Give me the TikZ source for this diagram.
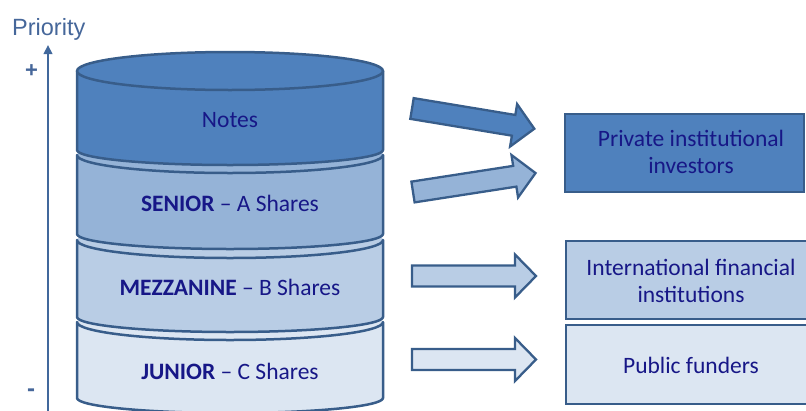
\documentclass[tikz,border=0pt]{standalone}
\usepackage{fontspec}
\setmainfont{Carlito}
\newfontfamily\arialf{Liberation Sans}
\usetikzlibrary{arrows.meta}
\definecolor{bord}{HTML}{385D8A}
\definecolor{cA}{HTML}{4F81BD}
\definecolor{cB}{HTML}{95B3D7}
\definecolor{cC}{HTML}{B9CDE5}
\definecolor{cD}{HTML}{DCE6F2}
\definecolor{txt}{RGB}{23,23,135}
\definecolor{axiscol}{HTML}{41689C}
\definecolor{prio}{HTML}{46679A}
\begin{document}
\begin{tikzpicture}[x=1pt,y=-1pt,
  seg/.style={draw=bord, line width=2.5pt, line join=round},
  lbl/.style={text=txt, font=\fontsize{23.5}{27}\selectfont, inner sep=0pt},
  boxst/.style={draw=bord, line width=2.2pt, rectangle, inner sep=0pt, anchor=north west},
  barrow/.pic={\path[pic actions] (0,-10.5) -- (103,-10.5) -- (103,-21.5) -- (124,0) -- (103,21.5) -- (103,10.5) -- (0,10.5) -- cycle;},
  arst/.style={draw=bord, line width=2.3pt, line join=miter}
]
\useasboundingbox (0,0) rectangle (806,410);
\clip (0,0) rectangle (806,410);
% axis
\node[anchor=base west, inner sep=0pt, text=prio, font=\arialf\fontsize{23.5}{28}\selectfont] (priority) at (12,35) {Priority};
\node[inner sep=0pt, text=prio, font=\arialf\bfseries\fontsize{22}{26}\selectfont] (plus) at (31.5,71) {+};
\node[inner sep=0pt, text=prio, font=\arialf\bfseries\fontsize{24}{28}\selectfont] (minus) at (31,393) {-};
\coordinate (axb) at (48,412);
\coordinate (axt) at (48,45);
\draw[axiscol, line width=2.5pt, -{Triangle[length=9pt,width=8.5pt]}] (axb) -- (axt);
% JUNIOR
\fill[cD] (77,322) arc[start angle=180,end angle=0,x radius=153pt,y radius=18pt] -- (383,398) arc[start angle=0,end angle=-180,x radius=153pt,y radius=15pt] -- cycle;
\draw[seg] (77,322) arc[start angle=180,end angle=360,x radius=153pt,y radius=18pt] -- (383,398) arc[start angle=0,end angle=-180,x radius=153pt,y radius=15pt] -- cycle;
% MEZZANINE
\fill[cC] (77,240) arc[start angle=180,end angle=0,x radius=153pt,y radius=18pt] -- (383,317) arc[start angle=0,end angle=-180,x radius=153pt,y radius=15pt] -- cycle;
\draw[seg] (77,240) arc[start angle=180,end angle=360,x radius=153pt,y radius=18pt] -- (383,317) arc[start angle=0,end angle=-180,x radius=153pt,y radius=15pt] -- cycle;
% SENIOR
\fill[cB] (77,155) arc[start angle=180,end angle=0,x radius=153pt,y radius=18pt] -- (383,234) arc[start angle=0,end angle=-180,x radius=153pt,y radius=15pt] -- cycle;
\draw[seg] (77,155) arc[start angle=180,end angle=360,x radius=153pt,y radius=18pt] -- (383,234) arc[start angle=0,end angle=-180,x radius=153pt,y radius=15pt] -- cycle;
% Notes
\filldraw[seg, fill=cA] (77,71) -- (77,150) arc[start angle=180,end angle=360,x radius=153pt,y radius=15pt] -- (383,71) -- cycle;
\filldraw[seg, fill=cA] (230,71) ellipse[x radius=153pt, y radius=19pt];
% labels
\node[lbl] (tnotes) at (230,120) {Notes};
\node[lbl] (tsen) at (230,203) {\textbf{SENIOR} – A Shares};
\node[lbl] (tmez) at (230,287) {\textbf{MEZZANINE} – B Shares};
\node[lbl] (tjun) at (230,371) {\textbf{JUNIOR} – C Shares};
% arrows
\pic[arst, fill=cA, rotate=-9.4] (arA) at (412,108.5) {barrow};
\pic[arst, fill=cB, rotate=8.8] (arB) at (413,192) {barrow};
\pic[arst, fill=cC] (arC) at (412,276) {barrow};
\pic[arst, fill=cD] (arD) at (412,359.5) {barrow};
% boxes
\node[boxst, fill=cA, minimum width=239pt, minimum height=78pt] (b1) at (564,113) {};
\node[boxst, fill=cC, minimum width=260pt, minimum height=78pt] (b2) at (565,240) {};
\node[boxst, fill=cD, minimum width=260pt, minimum height=79pt] (b3) at (565,324) {};
\node[lbl, align=center] (t1) at (691,152) {Private institutional\\investors};
\node[lbl, align=center] (t2) at (691,281) {International financial\\institutions};
\node[lbl] (t3) at (691,365) {Public funders};
\end{tikzpicture}
\end{document}
